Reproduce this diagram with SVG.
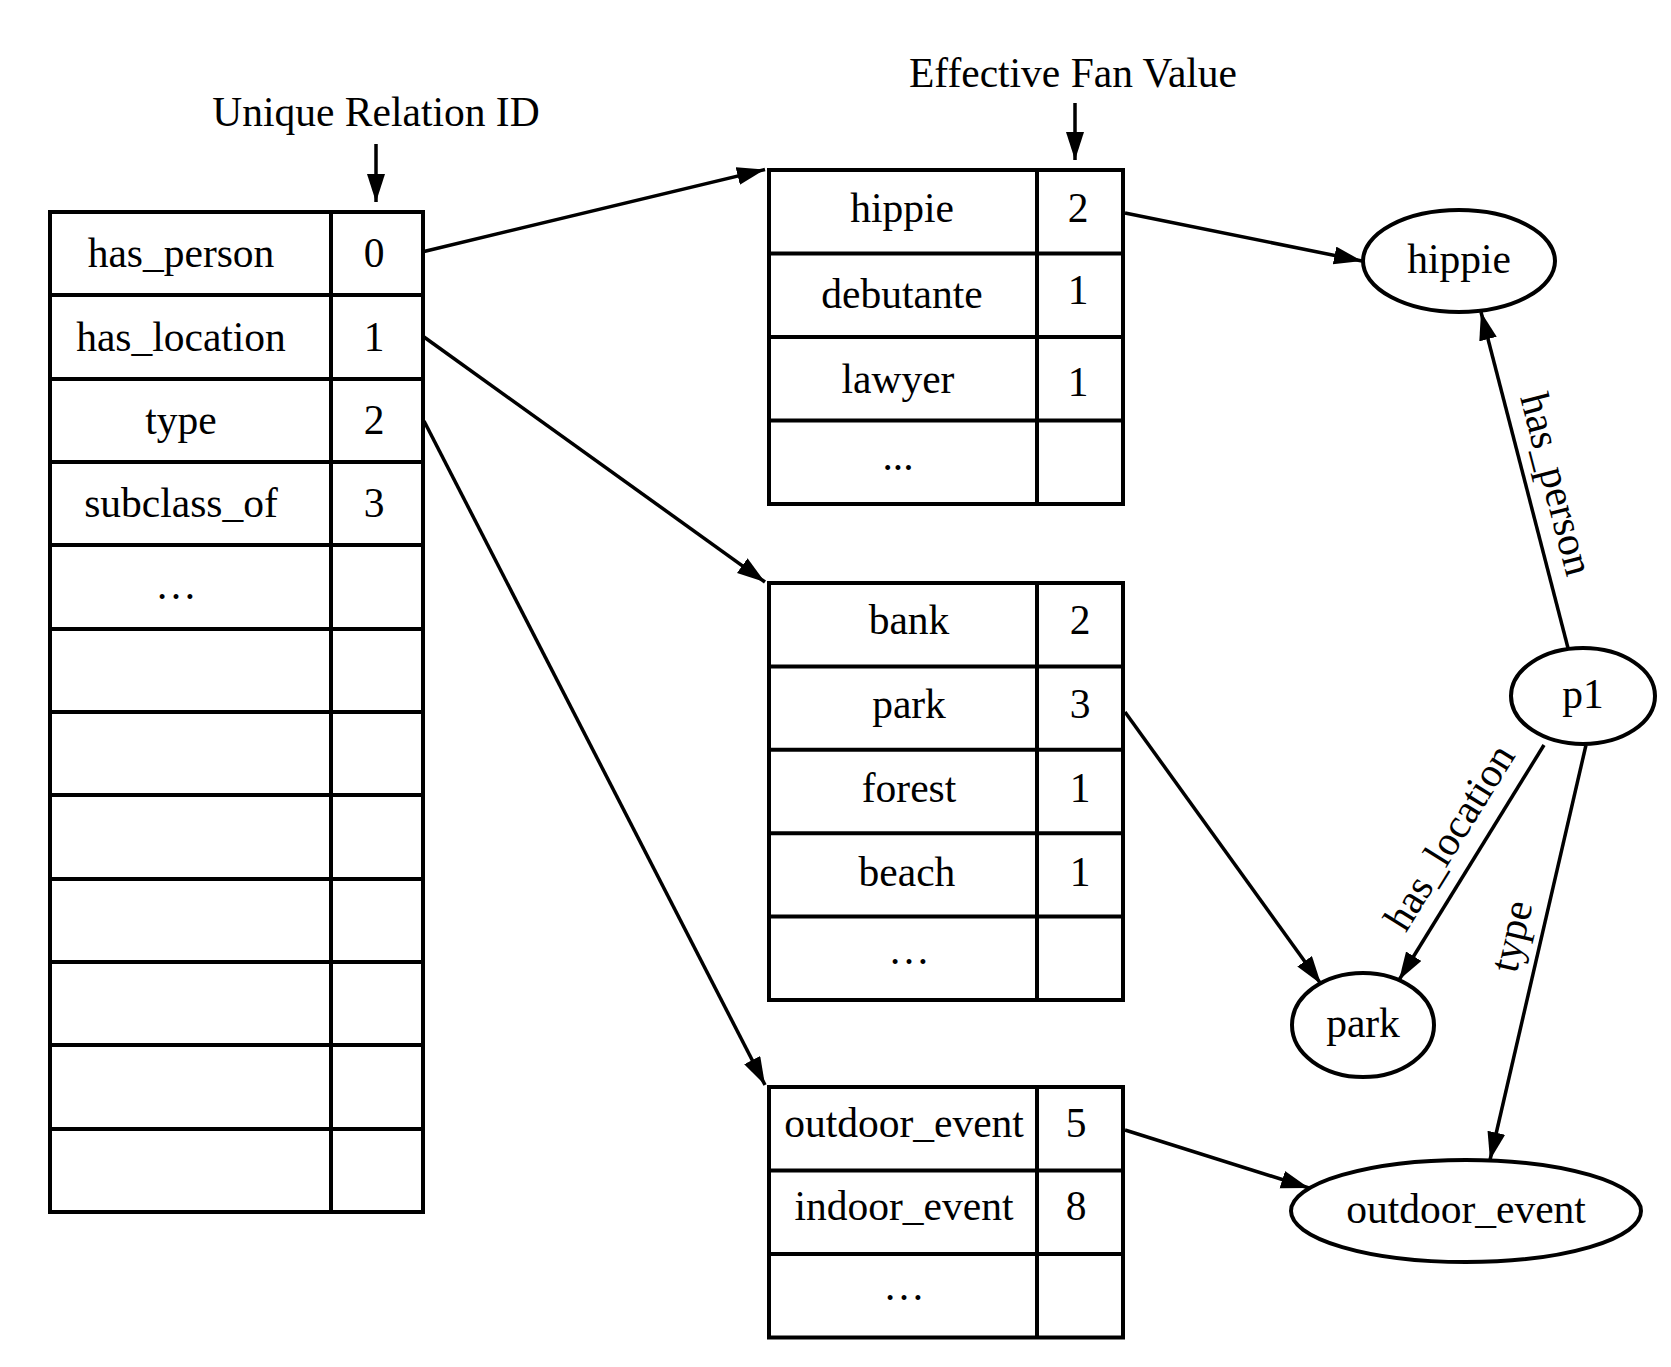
<svg xmlns="http://www.w3.org/2000/svg" width="1671" height="1367" viewBox="0 0 1671 1367">
<style>
  text { font-family: "Liberation Serif", "Times New Roman", serif; font-size: 41.5px; fill: #000; text-anchor: middle; }
  .box { fill: none; stroke: #000; stroke-width: 4; }
  .grid { stroke: #000; stroke-width: 4; }
  .edge { fill: none; stroke: #000; stroke-width: 3.5; marker-end: url(#arrow); }
  .node { fill: #fff; stroke: #000; stroke-width: 4; }
</style>
<defs>
  <marker id="arrow" markerUnits="userSpaceOnUse" markerWidth="30" markerHeight="20" refX="28" refY="9" orient="auto">
    <path d="M0,0 L28,9 L0,18 z" fill="#000"/>
  </marker>
</defs>
<rect width="1671" height="1367" fill="#fff"/>

<!-- headers -->
<g id="header-relation">
  <text x="376" y="126">Unique Relation ID</text>
</g>
<g id="header-fan">
  <text x="1073" y="87">Effective Fan Value</text>
</g>

<!-- left table -->
<g id="relation-table">
  <rect class="box" x="50" y="212" width="373" height="1000"/>
  <line class="grid" x1="331" y1="212" x2="331" y2="1212"/>
  <line class="grid" x1="50" y1="295" x2="423" y2="295"/>
  <line class="grid" x1="50" y1="379" x2="423" y2="379"/>
  <line class="grid" x1="50" y1="462" x2="423" y2="462"/>
  <line class="grid" x1="50" y1="545" x2="423" y2="545"/>
  <line class="grid" x1="50" y1="629" x2="423" y2="629"/>
  <line class="grid" x1="50" y1="712" x2="423" y2="712"/>
  <line class="grid" x1="50" y1="795" x2="423" y2="795"/>
  <line class="grid" x1="50" y1="879" x2="423" y2="879"/>
  <line class="grid" x1="50" y1="962" x2="423" y2="962"/>
  <line class="grid" x1="50" y1="1045" x2="423" y2="1045"/>
  <line class="grid" x1="50" y1="1129" x2="423" y2="1129"/>
  <text x="181" y="267">has_person</text><text x="374" y="267">0</text>
  <text x="181" y="351">has_location</text><text x="374" y="351">1</text>
  <text x="181" y="434">type</text><text x="374" y="434">2</text>
  <text x="181" y="517">subclass_of</text><text x="374" y="517">3</text>
  <text x="176" y="599">…</text>
</g>

<!-- table 1 -->
<g id="person-table">
  <rect class="box" x="769" y="170" width="354" height="334"/>
  <line class="grid" x1="1037" y1="170" x2="1037" y2="504"/>
  <line class="grid" x1="769" y1="253.5" x2="1123" y2="253.5"/>
  <line class="grid" x1="769" y1="337" x2="1123" y2="337"/>
  <line class="grid" x1="769" y1="420.5" x2="1123" y2="420.5"/>
  <text x="902" y="222">hippie</text><text x="1078" y="222">2</text>
  <text x="902" y="308">debutante</text><text x="1078" y="304">1</text>
  <text x="898" y="393">lawyer</text><text x="1078" y="396">1</text>
  <text x="898" y="470">...</text>
</g>

<!-- table 2 -->
<g id="location-table">
  <rect class="box" x="769" y="583" width="354" height="417"/>
  <line class="grid" x1="1037" y1="583" x2="1037" y2="1000"/>
  <line class="grid" x1="769" y1="666.4" x2="1123" y2="666.4"/>
  <line class="grid" x1="769" y1="749.8" x2="1123" y2="749.8"/>
  <line class="grid" x1="769" y1="833.2" x2="1123" y2="833.2"/>
  <line class="grid" x1="769" y1="916.6" x2="1123" y2="916.6"/>
  <text x="909" y="634">bank</text><text x="1080" y="634">2</text>
  <text x="909" y="718">park</text><text x="1080" y="718">3</text>
  <text x="909" y="802">forest</text><text x="1080" y="802">1</text>
  <text x="907" y="886">beach</text><text x="1080" y="886">1</text>
  <text x="909" y="964">…</text>
</g>

<!-- table 3 -->
<g id="type-table">
  <rect class="box" x="769" y="1087" width="354" height="250.5"/>
  <line class="grid" x1="1037" y1="1087" x2="1037" y2="1337.5"/>
  <line class="grid" x1="769" y1="1170.5" x2="1123" y2="1170.5"/>
  <line class="grid" x1="769" y1="1254" x2="1123" y2="1254"/>
  <text x="904" y="1137">outdoor_event</text><text x="1076" y="1137">5</text>
  <text x="904" y="1220">indoor_event</text><text x="1076" y="1220">8</text>
  <text x="904" y="1300">…</text>
</g>

<!-- graph nodes -->
<g id="node-hippie">
  <ellipse class="node" cx="1459" cy="261" rx="96" ry="51"/>
  <text x="1459" y="273">hippie</text>
</g>
<g id="node-p1">
  <ellipse class="node" cx="1583" cy="696" rx="72" ry="48"/>
  <text x="1583" y="708">p1</text>
</g>
<g id="node-park">
  <ellipse class="node" cx="1363" cy="1025" rx="71" ry="52"/>
  <text x="1363" y="1037">park</text>
</g>
<g id="node-outdoor_event">
  <ellipse class="node" cx="1466" cy="1211" rx="175" ry="51"/>
  <text x="1466" y="1223">outdoor_event</text>
</g>

<!-- connectors -->
<g id="connectors">
  <line class="edge" x1="376" y1="144" x2="376" y2="202"/>
  <line class="edge" x1="1075" y1="103" x2="1075" y2="160"/>
  <line class="edge" x1="424" y1="251.5" x2="765" y2="169.5"/>
  <line class="edge" x1="424" y1="337" x2="765" y2="582"/>
  <line class="edge" x1="424" y1="421" x2="765" y2="1085"/>
  <line class="edge" x1="1125" y1="213" x2="1362" y2="261"/>
  <line class="edge" x1="1125" y1="712" x2="1321" y2="984"/>
  <line class="edge" x1="1125" y1="1130" x2="1309" y2="1188"/>
  <line class="edge" x1="1568" y1="648" x2="1481" y2="312"/>
  <line class="edge" x1="1544" y1="745" x2="1399" y2="980"/>
  <line class="edge" x1="1586" y1="745" x2="1490" y2="1160"/>
  <text transform="translate(1557,484) rotate(75.4)" y="14">has_person</text>
  <text transform="translate(1449,837) rotate(-58.2)" y="14">has_location</text>
  <text transform="translate(1511,936) rotate(-76.9)" y="14">type</text>
</g>
</svg>
